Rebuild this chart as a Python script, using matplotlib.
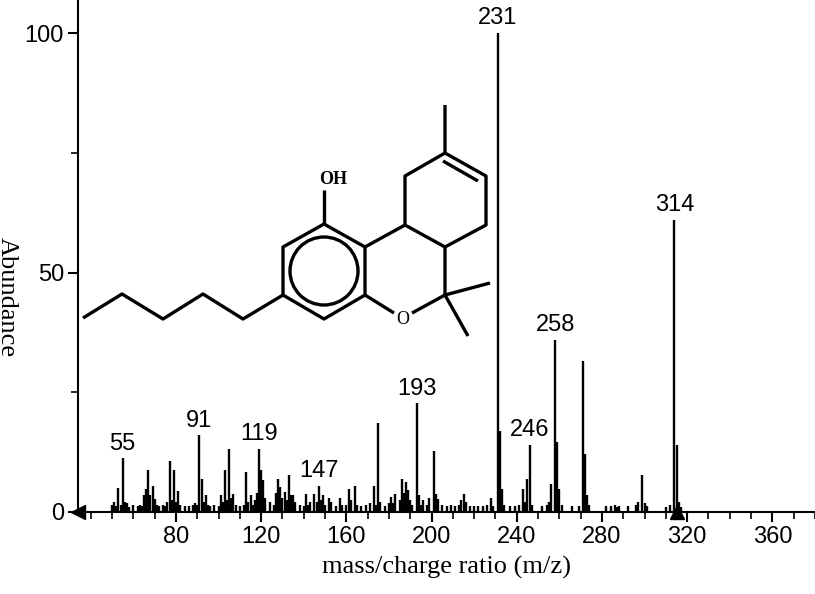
import numpy as np
import matplotlib.pyplot as plt
from matplotlib.patches import Circle

# m/z and relative abundance
mz = [50, 51, 52, 53, 54, 55, 56, 57, 58, 60, 62, 63, 64, 65, 66, 67, 68, 69, 70, 71,
      72, 74, 75, 76, 77, 78, 79, 80, 81, 82, 84, 86, 88, 89, 90, 91, 92, 93, 94, 95,
      96, 98, 100, 101, 102, 103, 104, 105, 106, 107, 108, 110, 112, 113, 114, 115, 116, 117,
      118, 119, 120, 121, 122, 124, 126, 127, 128, 129, 130, 131, 132, 133, 134, 135, 136,
      138, 140, 141, 142, 143, 145, 146, 147, 148, 149, 150, 152, 153, 155, 157, 158, 160,
      161, 162, 164, 165, 167, 169, 171, 173, 174, 175, 176, 178, 180, 181, 182, 183, 185,
      186, 187, 188, 189, 190, 191, 193, 194, 195, 196, 198, 199, 201, 202, 203, 205, 207,
      209, 211, 213, 214, 215, 216, 218, 220, 222, 224, 226, 228, 229, 231, 232, 233, 234,
      237, 239, 241, 243, 244, 245, 246, 247, 252, 254, 255, 256, 258, 259, 260, 261, 266,
      269, 271, 272, 273, 274, 282, 284, 286, 287, 288, 292, 296, 297, 299, 300, 301, 310,
      312, 314, 315, 316, 317]
abund = [1.5, 2.0, 1.2, 5.0, 1.5, 11.2, 2.0, 1.8, 1.0, 1.5, 1.2, 1.5, 1.3, 3.5, 4.9, 8.8,
         3.5, 5.4, 2.8, 1.5, 1.3, 1.5, 1.3, 2.0, 10.6, 2.5, 8.8, 2.0, 4.4, 1.5, 1.3, 1.2, 1.5,
         1.8, 1.5, 16.0, 6.8, 2.0, 3.5, 1.5, 1.2, 1.5, 1.3, 3.5, 2.0, 8.8, 2.5, 13.1, 3.0,
         3.8, 1.5, 1.3, 1.5, 8.4, 2.0, 3.5, 1.5, 2.5, 4.0, 13.1, 8.8, 6.6, 3.0, 2.0, 1.5, 4.0,
         6.8, 5.2, 3.0, 4.2, 2.5, 7.7, 3.5, 3.5, 2.0, 1.5, 1.3, 3.8, 1.5, 2.0, 3.8, 2.0, 5.4,
         2.5, 3.5, 1.5, 3.0, 2.0, 1.3, 3.0, 1.5, 1.5, 4.9, 2.5, 5.4, 1.5, 1.3, 1.5, 1.8,
         5.4, 1.5, 18.6, 2.0, 1.3, 1.8, 3.1, 1.8, 3.8, 2.5, 6.8, 4.0, 6.3, 4.5, 2.5, 1.5,
         22.7, 3.5, 1.5, 2.5, 1.5, 3.0, 12.8, 3.8, 2.8, 1.5, 1.3, 1.5, 1.2, 1.5, 2.5, 3.8,
         2.0, 1.3, 1.2, 1.2, 1.3, 1.5, 3.0, 1.2, 100, 17.0, 4.9, 1.5, 1.3, 1.3, 1.5, 4.9,
         2.0, 6.8, 14.0, 1.5, 1.2, 1.5, 2.0, 5.8, 36.0, 14.6, 4.9, 1.5, 1.3, 1.2, 31.5, 12.2,
         3.5, 1.5, 1.2, 1.3, 1.5, 1.0, 1.3, 1.2, 1.5, 2.0, 7.7, 1.9, 1.2, 1.0, 1.5, 61.0,
         14.0, 2.0, 1.0]

label_mz = [55, 91, 119, 147, 193, 231, 246, 258, 314]
label_y = [12.0, 16.8, 13.9, 6.2, 23.5, 101.0, 14.8, 36.8, 61.8]

fig = plt.figure(figsize=(8.15, 5.94), dpi=100)
ax = fig.add_axes([78 / 815, 82 / 594, 737 / 815, 512 / 594])
ax.vlines(mz, 0, abund, color='black', lw=1.7)
for m, y in zip(label_mz, label_y):
    ax.text(m, y, str(m), ha='center', va='bottom', fontsize=17,
            family='Liberation Sans')

ax.set_xlim(34, 380)
ax.set_ylim(0, 107)
for s in ['top', 'right']:
    ax.spines[s].set_visible(False)
ax.spines['left'].set_linewidth(1.5)
ax.spines['bottom'].set_linewidth(1.5)
ax.set_xticks(np.arange(80, 361, 40))
ax.set_xticks(np.arange(40, 381, 10), minor=True)
ax.set_yticks([0, 50, 100])
ax.set_yticks([25, 75], minor=True)
ax.tick_params(which='major', direction='out', length=7, width=1.5, labelsize=17, pad=3)
ax.tick_params(which='minor', direction='out', length=5, width=1.2)
for lab in ax.get_xticklabels() + ax.get_yticklabels():
    lab.set_family('Liberation Sans')
ax.set_xlabel('mass/charge ratio (m/z)', family='Liberation Serif', fontsize=19, labelpad=6)
fig.text(0.008, 0.5, 'Abundance', rotation=-90, va='center', ha='center',
         family='Liberation Serif', fontsize=19)
# arrow markers on the axis
ax.plot([34], [0], marker='<', color='black', ms=10, clip_on=False)
ax.plot([315], [0], marker='^', color='black', ms=10, clip_on=False)

# structure drawing (THC) in pixel coordinates
sx = fig.add_axes([0, 0, 1, 1], facecolor='none')
sx.set_xlim(0, 815)
sx.set_ylim(594, 0)
sx.axis('off')
bonds = [
    [(83, 318), (122, 294), (163, 319), (203, 294), (243, 319), (283, 295)],
    [(283, 295), (283, 247), (324, 224), (365, 247), (365, 295), (324, 319), (283, 295)],
    [(324, 224), (324, 190)],
    [(365, 247), (405, 225), (405, 176), (445, 153), (445, 105)],
    [(445, 153), (486, 176), (486, 225), (445, 247), (405, 225)],
    [(445, 247), (445, 295), (490, 283)],
    [(445, 295), (468, 336)],
    [(445, 295), (412, 313)],
    [(394, 313), (365, 295)],
    [(443, 161), (478, 181)],
]
for b in bonds:
    xs, ys = zip(*b)
    sx.plot(xs, ys, color='black', lw=2.4, solid_capstyle='butt')
sx.add_patch(Circle((324, 271), 34, fill=False, lw=2.4, color='black'))
sx.text(333, 179, 'OH', ha='center', va='center', fontsize=13, weight='bold',
        family='Liberation Serif')
sx.text(403, 320, 'O', ha='center', va='center', fontsize=13, family='Liberation Serif')

fig.savefig('out.png', dpi=100)
